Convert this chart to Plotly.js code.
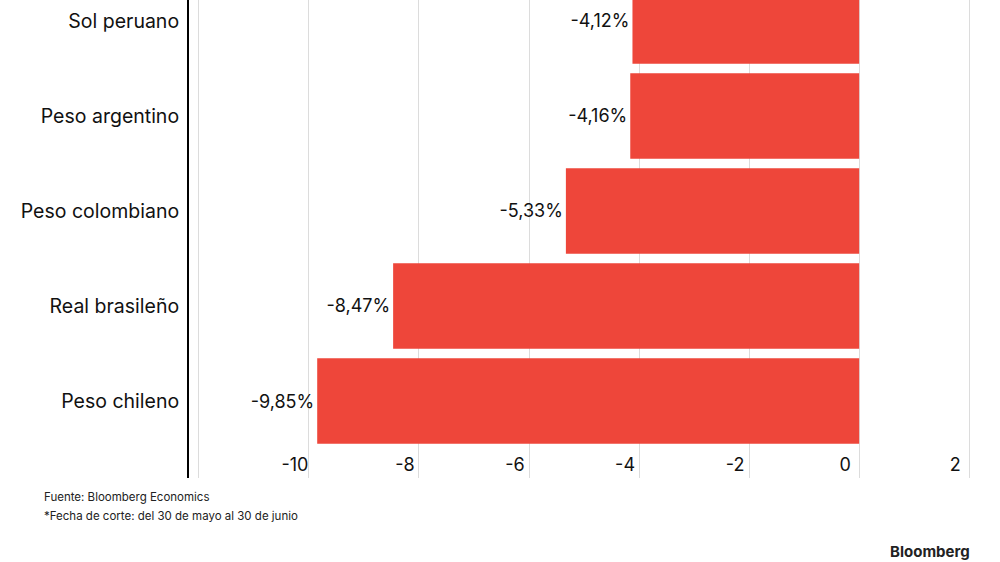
<!DOCTYPE html>
<html><head><meta charset="utf-8">
<script src="https://cdn.plot.ly/plotly-3.0.1.min.js"></script>
<style>body{margin:0;background:#fff}</style></head>
<body><div id="c" style="width:1000px;height:562px"></div>
<script>
const categories = ["Peso chileno","Real brasileño","Peso colombiano","Peso argentino","Sol peruano"];
const values = [-9.85,-8.47,-5.33,-4.16,-4.12];
const tickVals = [-12,-10,-8,-6,-4,-2,0,2];
const tickLabels = ["","-10","-8","-6","-4","-2","0","2"];
Plotly.newPlot("c",[{
  type:"bar",orientation:"h",y:categories,x:values,
  marker:{color:"#EE463A"},width:0.9,
  text:values.map(v=>v.toFixed(2).replace(".",",")+"%"),
  textposition:"outside",cliponaxis:false,
  textfont:{family:"Inter, Roboto, sans-serif",size:18,color:"#111"},
  hoverinfo:"skip"
}],{
  width:1000,height:562,margin:{l:189,r:0,t:0,b:84},
  paper_bgcolor:"#fff",plot_bgcolor:"#fff",showlegend:false,
  font:{family:"Inter, Roboto, sans-serif",color:"#111"},
  xaxis:{range:[-12.18,2.56],tickvals:tickVals,ticktext:tickLabels,
    showgrid:true,gridcolor:"#dcdcdc",zeroline:false,
    ticklabelposition:"inside",ticklabelshift:-14,
    tickfont:{size:18,color:"#111"},fixedrange:true},
  yaxis:{range:[-0.81,4.22],showline:true,linecolor:"#000",linewidth:2,
    ticks:"",ticklabelstandoff:4,tickfont:{size:19.5,color:"#111"},showgrid:false},
  annotations:[
    {text:"Fuente: Bloomberg Economics",x:42,y:497},
    {text:"*Fecha de corte: del 30 de mayo al 30 de junio",x:42,y:516},
    {text:"<b>Bloomberg</b>",x:888,y:551}
  ].map(a=>({text:a.text,xref:"paper",yref:"paper",x:(a.x-189)/811,y:1-a.y/478,xanchor:"left",yanchor:"middle",showarrow:false,
    font:{size:a.text.includes("Bloomberg</b>")?15:11.5,color:"#222"}}))
},{staticPlot:true});
</script></body></html>
